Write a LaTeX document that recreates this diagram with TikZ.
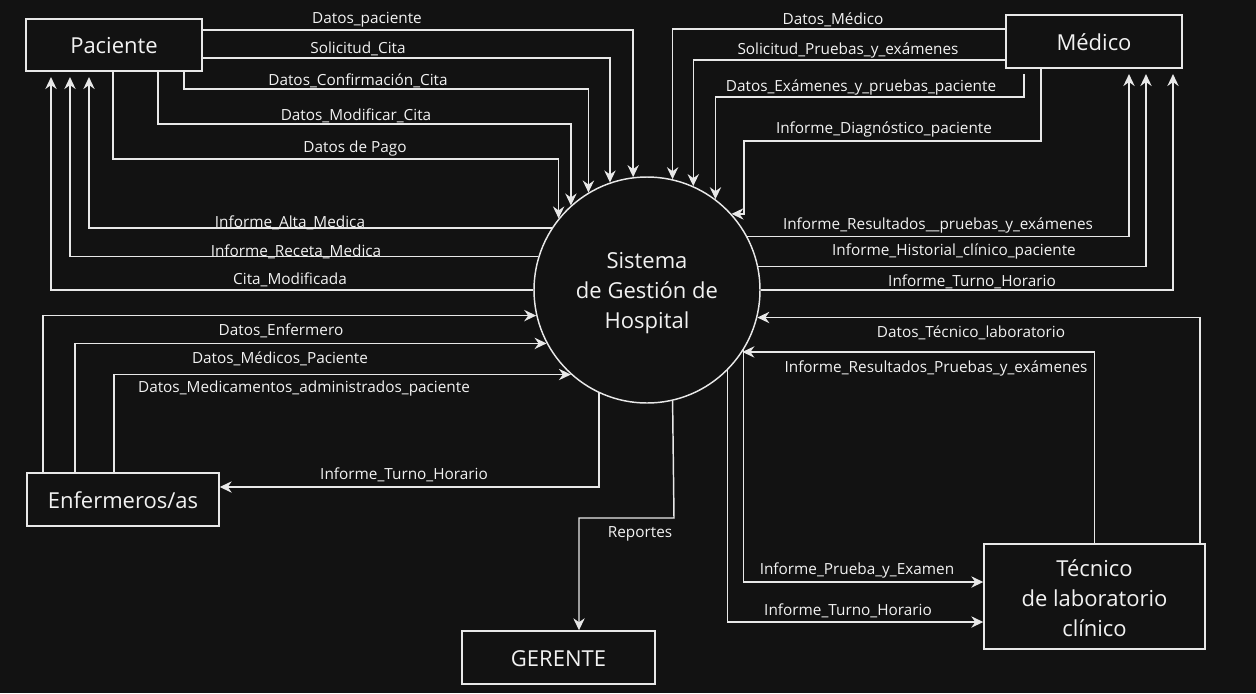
\documentclass[tikz,border=0pt]{standalone}
\usepackage{fontspec}
\setmainfont{Open Sans}
\usetikzlibrary{arrows.meta,calc}
\definecolor{bgc}{HTML}{121212}
\definecolor{fgc}{HTML}{E8E8E8}
\definecolor{txc}{HTML}{F2F2F2}
\begin{document}
\begin{tikzpicture}[x=0.75pt,y=-0.75pt,
  ent/.style={draw=fgc, line width=1.1pt, fill=bgc, text=txc, inner sep=0pt, align=center,
    font=\fontsize{16.5}{22.6}\selectfont},
  flow/.style={draw=fgc, line width=1.1pt, -{Stealth[length=9pt,width=8.5pt,inset=3pt]}},
  gap/.style={shorten >=4pt},
  lbl/.style={text=txc, inner sep=1pt, font=\fontsize{11.5}{13}\selectfont}]
\fill[bgc] (0,0) rectangle (1256,693);
\useasboundingbox (0,0) rectangle (1256,693);

% entities
\node[ent, minimum width=176*0.75pt, minimum height=52*0.75pt] (pac) at (114,45) {\rule{0pt}{13pt}Paciente};
\node[ent, minimum width=176*0.75pt, minimum height=53*0.75pt] (med) at (1094,41.5) {\rule{0pt}{13pt}Médico};
\node[ent, minimum width=192*0.75pt, minimum height=53*0.75pt] (enf) at (123,499.5) {\rule{0pt}{13pt}Enfermeros/as};
\node[ent, minimum width=193*0.75pt, minimum height=53*0.75pt] (ger) at (558.5,657.5) {\rule{0pt}{13pt}GERENTE};
\node[ent, minimum width=221*0.75pt, minimum height=105*0.75pt] (tec) at (1094.5,596.5) {\rule{0pt}{15pt}Técnico\\de laboratorio\\clínico};
\node[ent, circle, minimum size=226*0.75pt] (sis) at (647,290) {\rule{0pt}{16.5pt}Sistema\\de Gestión de\\Hospital};

% Paciente -> Sistema
\draw[flow] (pac.east |- 0,30) -| (sis.97.6);
\draw[flow] (pac.east |- 0,58) -| (sis.109.6);
\draw[flow] (184,0 |- pac.south) -- (184,89) -| (sis.121.5);
\draw[flow] (158,0 |- pac.south) -- (158,124) -| (sis.132.3);
\draw[flow] (113,0 |- pac.south) -- (113,159) -| (sis.141.2);
% Sistema -> Paciente
\draw[flow,gap] (sis.147.9) -| (89,0 |- pac.south);
\draw[flow,gap] (sis.163) -| (70,0 |- pac.south);
\draw[flow,gap] (sis.180) -| (51,0 |- pac.south);

% Medico -> Sistema
\draw[flow] (med.west |- 0,29) -| (sis.77.2);
\draw[flow] (med.west |- 0,60) -| (sis.66);
\draw[flow] (1024,74) -- (1024,97) -| (sis.53);
\draw[flow] (1041,0 |- med.south) |- (744,141) |- (sis.42);
% Sistema -> Medico
\draw[flow,gap] (sis.28.6) -| (1129,0 |- med.south);
\draw[flow,gap] (sis.12.8) -| (1146,0 |- med.south);
\draw[flow,gap] (sis.0) -| (1173,0 |- med.south);

% Enfermeros -> Sistema
\draw[flow] (43,0 |- enf.north) |- (sis.193.3);
\draw[flow] (75,0 |- enf.north) |- (sis.208);
\draw[flow] (114,0 |- enf.north) |- (sis.228);
% Sistema -> Enfermeros
\draw[flow] (sis.245.4) |- (enf.east |- 0,487);
% Sistema -> Gerente
\draw[flow] (sis.283.8) -- (674,518) -| (579,0 |- ger.north);

% Tecnico -> Sistema
\draw[flow] (1200,0 |- tec.north) |- (sis.346.2);
\draw[flow] (tec.north) |- (sis.327.3);
% Sistema -> Tecnico
\draw[flow] (sis.328.6) |- (tec.west |- 0,582);
\draw[flow] (sis.315.1) |- (tec.west |- 0,622);

% labels
\node[lbl] (l1) at (367,19.5) {Datos\_paciente};
\node[lbl] (l2) at (358,48.5) {Solicitud\_Cita};
\node[lbl] (l3) at (358,80.5) {Datos\_Confirmación\_Cita};
\node[lbl] (l4) at (356,115.5) {Datos\_Modificar\_Cita};
\node[lbl] (l5) at (355,148.5) {Datos de Pago};
\node[lbl] (l6) at (290,222.5) {Informe\_Alta\_Medica};
\node[lbl] (l7) at (296,251.5) {Informe\_Receta\_Medica};
\node[lbl] (l8) at (290,279.5) {Cita\_Modificada};

\node[lbl] (l9) at (833,19.5) {Datos\_Médico};
\node[lbl] (l10) at (848,50.5) {Solicitud\_Pruebas\_y\_exámenes};
\node[lbl] (l11) at (861,87.5) {Datos\_Exámenes\_y\_pruebas\_paciente};
\node[lbl] (l12) at (884,129.5) {Informe\_Diagnóstico\_paciente};
\node[lbl] (l13) at (938,225.5) {Informe\_Resultados\_\_pruebas\_y\_exámenes};
\node[lbl] (l14) at (954,251.5) {Informe\_Historial\_clínico\_paciente};
\node[lbl] (l15) at (972,281.5) {Informe\_Turno\_Horario};

\node[lbl] (l16) at (281,330.5) {Datos\_Enfermero};
\node[lbl] (l17) at (280,358.5) {Datos\_Médicos\_Paciente};
\node[lbl] (l18) at (304,388.5) {Datos\_Medicamentos\_administrados\_paciente};
\node[lbl] (l19) at (404,474.5) {Informe\_Turno\_Horario};
\node[lbl] (l20) at (640,533.5) {Reportes};

\node[lbl] (l21) at (971,332.5) {Datos\_Técnico\_laboratorio};
\node[lbl] (l22) at (936,368.5) {Informe\_Resultados\_Pruebas\_y\_exámenes};
\node[lbl] (l23) at (857,570.5) {Informe\_Prueba\_y\_Examen};
\node[lbl] (l24) at (848,610.5) {Informe\_Turno\_Horario};
\end{tikzpicture}
\end{document}
